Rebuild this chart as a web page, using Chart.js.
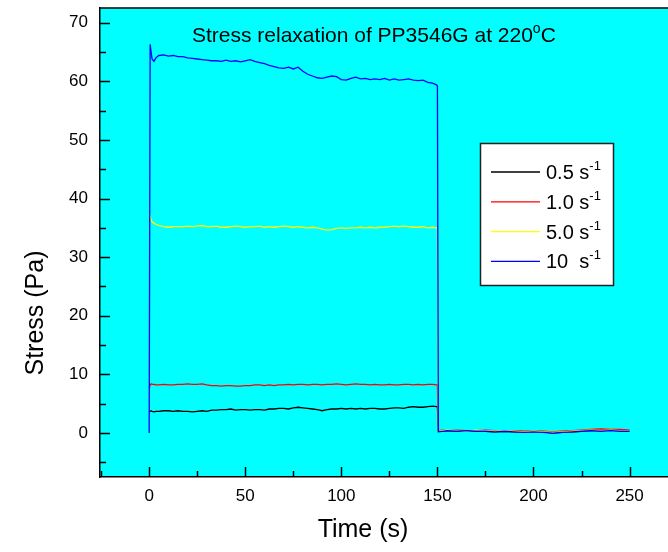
<!DOCTYPE html>
<html>
<head>
<meta charset="utf-8">
<title>Stress relaxation of PP3546G at 220°C</title>
<script src="https://cdn.jsdelivr.net/npm/chart.js@4.4.1/dist/chart.umd.min.js"></script>
<style>
    html, body { margin: 0; padding: 0; background: #fff; }
    canvas { display: block; }
</style>
</head>
<body>
<canvas id="stressChart" width="668" height="552"></canvas>
<script>
// time (s) - step up at 0, step down at 150
const timeS = [
    0, 0.5, 1, 1.5, 2.5, 3.5, 5, 7.5, 10, 12.5,
    15, 17.5, 20, 22.5, 25, 27.5, 30, 32.5, 35, 37.5,
    40, 42.5, 45, 47.5, 50, 52.5, 55, 57.5, 60, 62.5,
    65, 67.5, 70, 72.5, 75, 77.5, 80, 82.5, 85, 87.5,
    90, 92.5, 95, 97.5, 100, 102.5, 105, 107.5, 110, 112.5,
    115, 117.5, 120, 122.5, 125, 127.5, 130, 132.5, 135, 137.5,
    140, 142.5, 145, 147.5, 149.5, 150,
    150.5, 152.5, 155, 160, 165, 170, 175, 180, 185, 190,
    195, 200, 205, 210, 215, 220, 225, 230, 235, 240,
    245, 250
];

// stress (Pa) for each shear rate
const stress05 = [
    3.6, 3.7, 3.8, 3.7, 3.6, 3.7, 3.7, 3.8, 3.8, 3.7,
    3.8, 3.7, 3.7, 3.6, 3.7, 3.8, 3.7, 3.9, 3.9, 4.0,
    4.0, 4.1, 3.9, 4.0, 4.0, 3.9, 4.0, 4.0, 3.9, 4.1,
    4.1, 4.2, 4.2, 4.1, 4.3, 4.4, 4.3, 4.2, 4.1, 4.0,
    3.8, 4.0, 4.1, 4.1, 4.2, 4.1, 4.2, 4.1, 4.2, 4.1,
    4.2, 4.2, 4.1, 4.1, 4.2, 4.3, 4.3, 4.2, 4.4, 4.5,
    4.4, 4.4, 4.5, 4.6, 4.5, 4.5,
    0.3, 0.3, 0.4, 0.3, 0.3, 0.4, 0.3, 0.2, 0.3, 0.2,
    0.1, 0.2, 0.2, 0.0, 0.1, 0.2, 0.3, 0.4, 0.4, 0.5,
    0.5, 0.4
];
const stress10 = [
    7.6, 8.2, 8.4, 8.3, 8.3, 8.2, 8.2, 8.3, 8.2, 8.2,
    8.3, 8.3, 8.4, 8.3, 8.3, 8.4, 8.2, 8.1, 8.1, 8.0,
    8.1, 8.1, 8.0, 8.0, 8.1, 8.1, 8.2, 8.2, 8.1, 8.2,
    8.1, 8.2, 8.2, 8.3, 8.2, 8.3, 8.3, 8.2, 8.3, 8.3,
    8.2, 8.3, 8.3, 8.4, 8.3, 8.2, 8.3, 8.4, 8.3, 8.3,
    8.2, 8.3, 8.2, 8.2, 8.3, 8.2, 8.2, 8.3, 8.3, 8.2,
    8.3, 8.2, 8.3, 8.3, 8.2, 8.2,
    0.4, 0.5, 0.4, 0.5, 0.4, 0.4, 0.5, 0.4, 0.3, 0.4,
    0.3, 0.3, 0.3, 0.2, 0.3, 0.4, 0.5, 0.6, 0.7, 0.6,
    0.6, 0.5
];
const stress50 = [
    37.4, 37.0, 36.4, 36.0, 35.8, 35.6, 35.4, 35.2, 35.1, 35.2,
    35.2, 35.2, 35.3, 35.2, 35.3, 35.4, 35.2, 35.2, 35.3, 35.1,
    35.1, 35.2, 35.3, 35.2, 35.1, 35.2, 35.2, 35.3, 35.1, 35.2,
    35.1, 35.2, 35.3, 35.2, 35.1, 35.2, 35.1, 35.0, 35.1, 35.0,
    34.8, 34.6, 34.7, 34.9, 35.0, 34.9, 35.0, 35.0, 35.1, 35.0,
    35.1, 35.0, 35.1, 35.1, 35.2, 35.3, 35.2, 35.3, 35.2, 35.1,
    35.1, 35.2, 35.0, 35.1, 35.0, 35.0,
    0.3, 0.4, 0.5, 0.4, 0.3, 0.5, 0.4, 0.3, 0.4, 0.3,
    0.2, 0.3, 0.2, 0.1, 0.2, 0.3, 0.4, 0.5, 0.4, 0.5,
    0.4, 0.4
];
const stress100 = [
    0, 66.3, 65.0, 63.8, 63.4, 64.0, 64.4, 64.5, 64.3, 64.4,
    64.2, 64.2, 64.0, 63.9, 63.8, 63.7, 63.6, 63.5, 63.5, 63.4,
    63.6, 63.4, 63.5, 63.3, 63.5, 63.7, 63.4, 63.2, 63.0, 62.7,
    62.5, 62.3, 62.2, 62.4, 62.1, 62.4, 61.7, 61.2, 60.9, 60.6,
    60.5, 60.7, 60.9, 60.8, 60.3, 60.2, 60.5, 60.7, 60.4, 60.5,
    60.3, 60.4, 60.3, 60.5, 60.2, 60.4, 60.2, 60.3, 60.4, 60.2,
    60.1, 60.2, 59.8, 59.7, 59.4, 59.2,
    0.2, 0.3, 0.4, 0.3, 0.4, 0.3, 0.3, 0.2, 0.3, 0.2,
    0.1, 0.2, 0.1, 0.0, 0.1, 0.2, 0.3, 0.4, 0.3, 0.4,
    0.3, 0.3
];

const seriesLabels = ['0.5 s', '1.0 s', '5.0 s', '10  s'];
const seriesColors = ['#000000', '#ff0000', '#ffff00', '#0000ff'];

// axis ticks (major ones get labels)
const xTicks = [-25, 0, 25, 50, 75, 100, 125, 150, 175, 200, 225, 250];
const yTicks = [-5, 0, 5, 10, 15, 20, 25, 30, 35, 40, 45, 50, 55, 60, 65, 70];

const FONT = "'Liberation Sans', Arial, Helvetica, sans-serif";

const toPoints = (vals) => vals.map((v, i) => ({ x: timeS[i], y: v }));

// text with superscripts: parts = [[text, size, raise], ...]
const drawRich = (ctx, x, y, parts) => {
    let cx = x;
    parts.forEach(([text, size, raise]) => {
        ctx.font = size + 'px ' + FONT;
        ctx.fillText(text, cx, y - raise);
        cx += ctx.measureText(text).width;
    });
    return cx;
};

// background, inner ticks, title, axis titles, legend
const decor = {
    id: 'decor',
    beforeDraw(chart) {
        const { ctx, chartArea: a } = chart;
        ctx.save();
        ctx.fillStyle = '#ffffff';
        ctx.fillRect(0, 0, chart.width, chart.height);
        ctx.fillStyle = '#00ffff';
        ctx.fillRect(a.left, a.top, a.right - a.left, a.bottom - a.top);
        ctx.restore();
    },
    afterDraw(chart) {
        const { ctx, chartArea: a, scales } = chart;
        ctx.save();
        ctx.strokeStyle = '#000';
        ctx.lineWidth = 1.5;

        // top frame line
        ctx.beginPath();
        ctx.moveTo(a.left, a.top);
        ctx.lineTo(a.right, a.top);
        ctx.stroke();

        // tick marks pointing into the plot
        scales.y.ticks.forEach(t => {
            const py = Math.round(scales.y.getPixelForValue(t.value)) + 0.5;
            const len = t.value % 10 === 0 ? 10 : 6;
            ctx.beginPath();
            ctx.moveTo(a.left, py);
            ctx.lineTo(a.left + len, py);
            ctx.stroke();
        });
        scales.x.ticks.forEach(t => {
            const px = Math.round(scales.x.getPixelForValue(t.value)) + 0.5;
            const len = t.value % 50 === 0 ? 10 : 6;
            ctx.beginPath();
            ctx.moveTo(px, a.bottom);
            ctx.lineTo(px, a.bottom - len);
            ctx.stroke();
        });

        ctx.fillStyle = '#000';
        ctx.textBaseline = 'alphabetic';
        ctx.textAlign = 'left';

        // title inside the plot
        drawRich(ctx, 192, 42, [['Stress relaxation of PP3546G at 220', 21, 0], ['o', 14, 9], ['C', 21, 0]]);

        // axis titles
        ctx.font = '25px ' + FONT;
        ctx.textAlign = 'center';
        ctx.fillText('Time (s)', 363, 537);
        ctx.save();
        ctx.translate(43, 313);
        ctx.rotate(-Math.PI / 2);
        ctx.fillText('Stress (Pa)', 0, 0);
        ctx.restore();

        // legend box
        const box = { left: 480, top: 143, right: 613, bottom: 285 };
        ctx.fillStyle = '#ffffff';
        ctx.fillRect(box.left, box.top, box.right - box.left, box.bottom - box.top);
        ctx.strokeStyle = '#222';
        ctx.lineWidth = 1.5;
        ctx.strokeRect(box.left + 0.5, box.top + 0.5, box.right - box.left, box.bottom - box.top);

        ctx.textAlign = 'left';
        chart.data.datasets.forEach((ds, i) => {
            const rowY = 172 + i * 29.8;
            ctx.strokeStyle = ds.borderColor;
            ctx.lineWidth = 1.3;
            ctx.beginPath();
            ctx.moveTo(491, rowY);
            ctx.lineTo(540, rowY);
            ctx.stroke();
            ctx.fillStyle = '#000';
            drawRich(ctx, 546, rowY + 7, [[ds.label, 20, 0], ['-1', 13, 9]]);
        });

        ctx.restore();
    }
};

const datasets = [stress05, stress10, stress50, stress100].map((vals, i) => ({
    label: seriesLabels[i],
    data: toPoints(vals),
    borderColor: seriesColors[i],
    backgroundColor: seriesColors[i],
    borderWidth: 1.3,
    pointRadius: 0,
    tension: 0,
    fill: false,
    order: 3 - i
}));

// fixed axis boxes so the plot area lands where the original one is
const fixX = s => { s.height = 75; s.paddingLeft = 0; s.paddingRight = 0; };
const fixY = s => { s.width = 100; s.paddingTop = 0; s.paddingBottom = 0; };

new Chart(document.getElementById('stressChart'), {
    type: 'line',
    data: { datasets },
    options: {
        responsive: false,
        animation: false,
        devicePixelRatio: 1,
        layout: { padding: { top: 8, right: 0, left: 0, bottom: 0 } },
        plugins: {
            legend: { display: false },
            tooltip: { enabled: false }
        },
        scales: {
            x: {
                type: 'linear',
                min: -25.6,
                max: 270,
                afterBuildTicks: s => { s.ticks = xTicks.map(v => ({ value: v })); },
                afterFit: fixX,
                grid: { display: false, drawTicks: false },
                border: { display: true, color: '#000', width: 1.5 },
                ticks: {
                    autoSkip: false,
                    maxRotation: 0,
                    padding: 9,
                    color: '#000',
                    font: { family: FONT, size: 17 },
                    callback: v => (v % 50 === 0 ? v : '')
                }
            },
            y: {
                type: 'linear',
                min: -7.5,
                max: 72.5,
                afterBuildTicks: s => { s.ticks = yTicks.map(v => ({ value: v })); },
                afterFit: fixY,
                grid: { display: false, drawTicks: false },
                border: { display: true, color: '#000', width: 1.5 },
                ticks: {
                    autoSkip: false,
                    padding: 12,
                    color: '#000',
                    font: { family: FONT, size: 17 },
                    callback: v => (v % 10 === 0 ? v : '')
                }
            }
        }
    },
    plugins: [decor]
});
</script>
</body>
</html>
